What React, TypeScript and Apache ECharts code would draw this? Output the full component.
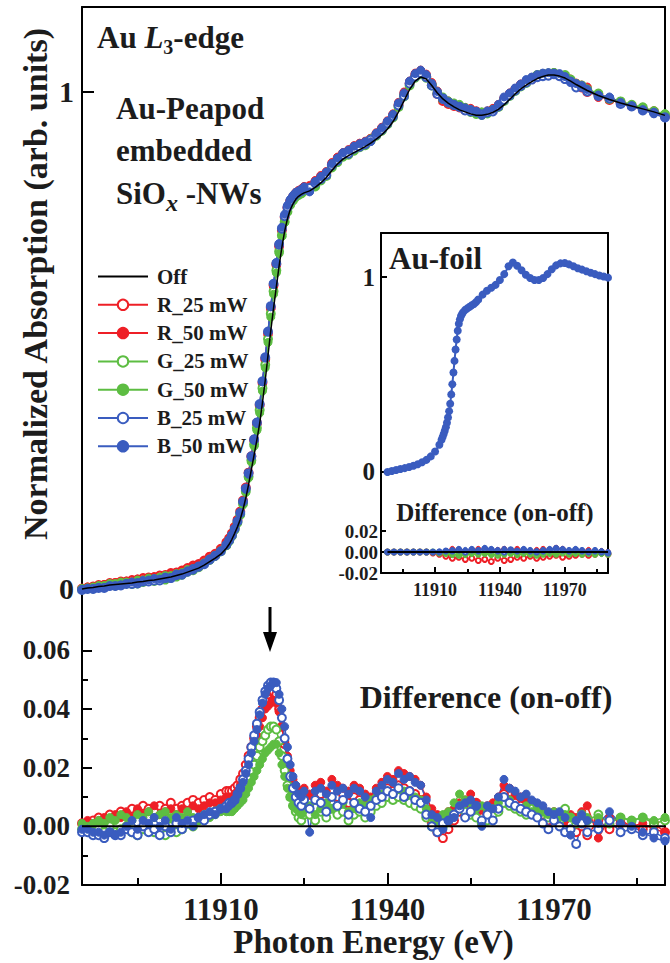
import React, { useEffect, useRef } from "react";
import * as echarts from "echarts";

// ---------- axis ranges & tick values ----------
const X_MIN = 11885;
const X_MAX = 11990;
const X_LABELS = [11910, 11940, 11970];
const X_MINOR = [11895, 11925, 11955, 11985];
const TOP_Y_LABELS = [0, 1];
const DIFF_Y_LABELS = [-0.02, 0, 0.02, 0.04, 0.06];
const DIFF_Y_MINOR = [-0.01, 0.01, 0.03, 0.05];
const INSET_DIFF_LABELS = [-0.02, 0, 0.02];

const LEGEND = ["Off", "R_25 mW", "R_50 mW", "G_25 mW", "G_50 mW", "B_25 mW", "B_50 mW"];

// ---------- Au-Peapod sample: energy grid (eV) ----------
const ENERGY = [
  11885, 11886, 11887, 11888, 11889, 11890, 11891, 11892, 11893, 11894,
  11895, 11896, 11897, 11898, 11899, 11900, 11901, 11902, 11903, 11904,
  11905, 11906, 11907, 11908, 11909, 11910, 11911,
  11911.5, 11912, 11912.5, 11913, 11913.5, 11914, 11914.5, 11915, 11915.5, 11916,
  11916.5, 11917, 11917.5, 11918, 11918.5, 11919, 11919.5, 11920, 11920.5, 11921,
  11921.5, 11922, 11922.5, 11923, 11923.5, 11924, 11924.5, 11925,
  11926, 11927, 11928, 11929, 11930, 11931, 11932, 11933, 11934, 11935,
  11936, 11937, 11938, 11939, 11940, 11941, 11942, 11943, 11944, 11945,
  11946, 11947, 11948, 11949, 11950, 11951, 11952, 11953, 11954, 11955,
  11956, 11957, 11958, 11959, 11960, 11961, 11962, 11963, 11964, 11965,
  11966, 11967, 11968, 11969, 11970, 11971, 11972, 11973, 11974, 11975,
  11976,
  11978, 11980, 11982, 11984, 11986, 11988, 11990,
];

// Off spectrum (normalized absorption)
const OFF = [
  0.000, 0.002, 0.003, 0.005, 0.006, 0.008, 0.009, 0.010, 0.011, 0.012,
  0.014, 0.015, 0.017, 0.018, 0.020, 0.022, 0.024, 0.027, 0.030, 0.034,
  0.038, 0.042, 0.048, 0.055, 0.062, 0.070, 0.082,
  0.090, 0.100, 0.112, 0.125, 0.140, 0.160, 0.183, 0.210, 0.240, 0.270,
  0.300, 0.333, 0.375, 0.420, 0.470, 0.520, 0.565, 0.608, 0.650, 0.688,
  0.720, 0.745, 0.763, 0.775, 0.784, 0.790, 0.794, 0.797,
  0.801, 0.808, 0.817, 0.828, 0.842, 0.855, 0.865, 0.872, 0.878, 0.884,
  0.890, 0.897, 0.905, 0.914, 0.925, 0.940, 0.960, 0.982, 1.005, 1.022,
  1.030, 1.026, 1.013, 0.998, 0.986, 0.977, 0.970, 0.964, 0.960, 0.956,
  0.953, 0.953, 0.955, 0.959, 0.965, 0.974, 0.985, 0.996, 1.006, 1.014,
  1.021, 1.027, 1.031, 1.034, 1.034, 1.032, 1.028, 1.022, 1.015, 1.009,
  1.003,
  0.993, 0.985, 0.978, 0.972, 0.966, 0.960, 0.953,
];

// Differences (on - off)
const D_R25 = [
  0.001, 0.001, 0.002, 0.003, 0.002, 0.004, 0.003, 0.005, 0.004, 0.006,
  0.005, 0.007, 0.006, 0.005, 0.007, 0.006, 0.008, 0.006, 0.007, 0.008,
  0.009, 0.008, 0.009, 0.010, 0.009, 0.011, 0.012,
  0.012, 0.012, 0.013, 0.014, 0.016, 0.018, 0.021, 0.024, 0.027, 0.030,
  0.034, 0.037, 0.040, 0.043, 0.045, 0.046, 0.046, 0.045, 0.040, 0.034,
  0.028, 0.022, 0.017, 0.013, 0.011, 0.009, 0.008, 0.010,
  0.008, 0.010, 0.011, 0.009, 0.012, 0.010, 0.011, 0.008, 0.010, 0.009,
  0.007, 0.008, 0.010, 0.012, 0.013, 0.012, 0.014, 0.013, 0.012, 0.011,
  0.009, 0.005, 0.001, -0.002, -0.004, -0.001, 0.002, 0.005, 0.004, 0.006,
  0.008, 0.003, 0.004, 0.005, 0.007, 0.011, 0.009, 0.008, 0.007, 0.006,
  0.005, 0.006, 0.004, 0.002, 0.003, 0.001, -0.001, 0.001, -0.002, 0.000,
  -0.003,
  0.002, -0.001, 0.001, 0.000, -0.001, 0.001, -0.002,
];
const D_R50 = [
  0.001, 0.002, 0.001, 0.002, 0.003, 0.002, 0.004, 0.003, 0.005, 0.003,
  0.006, 0.004, 0.005, 0.007, 0.004, 0.005, 0.006, 0.004, 0.006, 0.005,
  0.007, 0.006, 0.007, 0.008, 0.008, 0.009, 0.010,
  0.010, 0.010, 0.011, 0.012, 0.014, 0.016, 0.019, 0.022, 0.025, 0.028,
  0.031, 0.034, 0.037, 0.040, 0.041, 0.042, 0.043, 0.042, 0.039, 0.034,
  0.029, 0.024, 0.019, 0.016, 0.014, 0.012, 0.011, 0.013,
  0.011, 0.014, 0.015, 0.012, 0.016, 0.014, 0.013, 0.012, 0.014, 0.013,
  0.011, 0.010, 0.013, 0.015, 0.017, 0.016, 0.019, 0.018, 0.017, 0.016,
  0.014, 0.010, 0.006, 0.004, 0.003, 0.005, 0.006, 0.008, 0.009, 0.011,
  0.008, 0.006, 0.007, 0.008, 0.010, 0.014, 0.013, 0.011, 0.010, 0.009,
  0.008, 0.007, 0.006, 0.004, 0.005, 0.003, 0.002, 0.004, 0.003, 0.005,
  0.007,
  -0.004, 0.003, 0.002, 0.000, 0.001, -0.001, -0.002,
];
const D_G25 = [
  -0.001, -0.001, -0.002, -0.001, -0.002, 0.000, -0.002, -0.001, 0.000, -0.002,
  -0.003, -0.001, 0.000, -0.002, -0.001, -0.003, 0.000, -0.002, -0.001, 0.001,
  0.000, 0.002, 0.003, 0.004, 0.005, 0.006, 0.006,
  0.007, 0.007, 0.008, 0.009, 0.010, 0.012, 0.014, 0.016, 0.019, 0.021,
  0.024, 0.027, 0.029, 0.031, 0.033, 0.034, 0.034, 0.033, 0.029, 0.024,
  0.019, 0.014, 0.010, 0.007, 0.005, 0.003, 0.002, 0.004,
  0.004, 0.002, 0.005, 0.003, 0.006, 0.004, 0.005, 0.002, 0.004, 0.005,
  0.003, 0.005, 0.007, 0.008, 0.010, 0.009, 0.010, 0.009, 0.008, 0.007,
  0.006, 0.003, 0.000, -0.001, 0.000, 0.002, 0.004, 0.007, 0.005, 0.004,
  0.003, 0.001, 0.002, 0.004, 0.005, 0.008, 0.007, 0.006, 0.005, 0.004,
  0.006, 0.007, 0.005, 0.003, 0.004, 0.002, 0.006, 0.003, 0.001, 0.004,
  0.002,
  0.004, 0.001, 0.003, 0.002, 0.003, 0.001, 0.002,
];
const D_G50 = [
  0.001, 0.000, 0.001, 0.002, 0.001, 0.003, 0.002, 0.004, 0.003, 0.002,
  0.004, 0.003, 0.005, 0.003, 0.004, 0.005, 0.003, 0.004, 0.003, 0.005,
  0.003, 0.002, 0.004, 0.003, 0.004, 0.005, 0.005,
  0.005, 0.005, 0.006, 0.007, 0.008, 0.009, 0.011, 0.013, 0.015, 0.017,
  0.019, 0.021, 0.023, 0.025, 0.026, 0.027, 0.028, 0.028, 0.025, 0.021,
  0.017, 0.013, 0.010, 0.007, 0.006, 0.005, 0.004, 0.006,
  0.007, 0.004, 0.006, 0.008, 0.006, 0.007, 0.008, 0.005, 0.006, 0.008,
  0.007, 0.009, 0.010, 0.011, 0.012, 0.011, 0.013, 0.012, 0.011, 0.010,
  0.009, 0.006, 0.003, 0.002, 0.004, 0.005, 0.008, 0.011, 0.009, 0.008,
  0.006, 0.007, 0.005, 0.006, 0.008, 0.010, 0.009, 0.007, 0.006, 0.007,
  0.005, 0.006, 0.005, 0.004, 0.005, 0.003, 0.004, 0.003, 0.002, 0.004,
  0.003,
  0.003, 0.002, 0.003, 0.002, 0.003, 0.002, 0.003,
];
const D_B25 = [
  -0.002, -0.002, -0.003, -0.003, -0.004, -0.002, -0.003, -0.003, -0.001, -0.002,
  -0.003, 0.000, -0.002, -0.001, -0.003, 0.000, -0.002, 0.001, -0.001, 0.001,
  0.002, 0.003, 0.002, 0.004, 0.005, 0.006, 0.007,
  0.008, 0.008, 0.009, 0.011, 0.013, 0.016, 0.019, 0.023, 0.027, 0.031,
  0.035, 0.039, 0.043, 0.046, 0.048, 0.049, 0.049, 0.047, 0.043, 0.037,
  0.030, 0.023, 0.017, 0.013, 0.010, 0.008, 0.007, 0.009,
  0.006, 0.009, 0.008, 0.005, 0.010, 0.007, 0.009, 0.004, 0.008, 0.006,
  0.005, 0.007, 0.009, 0.010, 0.012, 0.011, 0.013, 0.010, 0.012, 0.009,
  0.008, 0.004, 0.000, -0.002, 0.001, 0.002, 0.004, 0.006, 0.003, 0.005,
  0.007, 0.002, 0.004, 0.002, 0.006, 0.010, 0.008, 0.007, 0.006, 0.005,
  0.004, 0.003, 0.001, -0.001, 0.002, 0.000, -0.002, -0.001, -0.006, 0.001,
  -0.002,
  -0.001, 0.002, -0.002, -0.001, -0.003, -0.002, -0.004,
];
const D_B50 = [
  -0.001, -0.001, -0.002, -0.002, -0.003, -0.002, -0.003, -0.002, 0.000, 0.002,
  -0.001, 0.002, 0.001, 0.003, 0.000, 0.002, -0.001, 0.003, 0.001, 0.002,
  0.000, 0.003, 0.004, 0.005, 0.004, 0.006, 0.006,
  0.007, 0.008, 0.009, 0.011, 0.013, 0.015, 0.018, 0.021, 0.025, 0.029,
  0.033, 0.038, 0.042, 0.045, 0.047, 0.048, 0.049, 0.049, 0.045, 0.040,
  0.034, 0.027, 0.021, 0.017, 0.014, 0.011, 0.010, 0.012,
  -0.002, 0.012, 0.013, 0.011, 0.014, 0.012, 0.013, 0.011, 0.013, 0.012,
  0.010, 0.003, 0.012, 0.014, 0.016, 0.015, 0.018, 0.016, 0.017, 0.015,
  0.014, 0.009, 0.004, 0.003, -0.001, 0.002, 0.003, 0.007, 0.008, 0.009,
  0.007, 0.000, 0.007, 0.006, 0.010, 0.016, 0.013, 0.012, 0.010, 0.011,
  0.009, 0.008, 0.007, 0.005, 0.004, 0.005, 0.003, -0.003, 0.002, 0.004,
  0.002,
  0.001, 0.005, 0.001, 0.000, -0.002, -0.004, -0.005,
];

// ---------- Au-foil reference (inset) ----------
const FOIL_E = [
  11888, 11890, 11892, 11894, 11896, 11898, 11900, 11902, 11904, 11906, 11908, 11910, 11912,
  11913, 11913.5, 11914, 11914.5, 11915, 11915.5, 11916, 11916.5, 11917, 11917.5,
  11918, 11918.5, 11919, 11919.5, 11920, 11920.5, 11921, 11921.5, 11922, 11922.5, 11923,
  11924, 11925, 11926, 11927, 11928, 11929, 11930,
  11932, 11934, 11936, 11938, 11940, 11942, 11944, 11946, 11948, 11950,
  11952, 11954, 11956, 11958, 11960, 11962, 11964, 11966, 11968, 11970,
  11972, 11974, 11976, 11978, 11980, 11982, 11984, 11986, 11988, 11990,
];
const FOIL = [
  0.000, 0.005, 0.010, 0.015, 0.020, 0.026, 0.032, 0.040, 0.050, 0.062, 0.080, 0.105, 0.140,
  0.165, 0.180, 0.195, 0.212, 0.230, 0.253, 0.280, 0.312, 0.350, 0.398,
  0.450, 0.510, 0.570, 0.628, 0.680, 0.725, 0.760, 0.783, 0.800, 0.811, 0.820,
  0.832, 0.840, 0.848, 0.855, 0.862, 0.872, 0.885,
  0.910, 0.930, 0.945, 0.960, 0.985, 1.015, 1.055, 1.075, 1.058, 1.035,
  1.012, 0.995, 0.985, 0.985, 0.995, 1.015, 1.040, 1.060, 1.070, 1.072,
  1.065, 1.055, 1.045, 1.038, 1.030, 1.022, 1.015, 1.008, 1.003, 0.997,
];
const FOIL_DIFF_E = [
  11888, 11891, 11894, 11897, 11900, 11903, 11906, 11909, 11912, 11915,
  11918, 11921, 11924, 11927, 11930, 11933, 11936, 11939, 11942, 11945,
  11948, 11951, 11954, 11957, 11960, 11963, 11966, 11969, 11972, 11975,
  11978, 11981, 11984, 11987, 11990,
];
const FD_R25 = [
  0, 0, 0, 0, 0, 0, 0, -0.001, -0.002, -0.004,
  -0.006, -0.005, -0.007, -0.006, -0.008, -0.007, -0.009, -0.006, -0.008, -0.007,
  -0.005, -0.006, -0.004, -0.006, -0.005, -0.004, -0.003, -0.005, -0.004, -0.003,
  -0.002, -0.003, -0.002, -0.001, -0.002,
];
const FD_R50 = [
  0, 0, 0, 0, 0, 0, 0, 0, 0, 0.001,
  0.003, 0.002, 0.001, 0.002, 0.003, 0.002, 0.001, 0.002, 0.003, 0.002,
  0.003, 0.002, 0.001, 0.002, 0.003, 0.002, 0.004, 0.003, 0.001, 0.002,
  0.001, 0.002, 0.000, 0.001, 0.000,
];
const FD_G25 = [
  0, 0, 0, 0, 0, 0, 0, 0, -0.001, -0.001,
  -0.002, -0.003, -0.002, -0.001, -0.002, -0.001, -0.002, -0.003, -0.002, -0.001,
  -0.002, -0.001, -0.002, -0.003, -0.002, -0.001, -0.002, -0.001, -0.002, -0.001,
  -0.002, -0.001, -0.002, -0.001, -0.002,
];
const FD_G50 = [
  0, 0, 0, 0, 0, 0, 0, 0, -0.001, -0.002,
  -0.003, -0.002, -0.003, -0.002, -0.001, -0.002, -0.003, -0.002, -0.001, -0.002,
  -0.003, -0.002, -0.001, -0.002, -0.001, -0.002, -0.001, 0.000, -0.001, -0.002,
  -0.001, -0.002, -0.001, -0.002, -0.001,
];
const FD_B25 = [
  0, 0, 0, 0, 0, 0, 0, 0, 0, 0.001,
  0.001, 0.002, 0.000, 0.002, 0.001, 0.003, 0.002, 0.001, 0.000, 0.002,
  0.001, 0.002, 0.001, 0.000, 0.001, 0.002, 0.003, 0.002, 0.001, 0.002,
  0.001, 0.000, 0.001, 0.000, -0.001,
];
const FD_B50 = [
  0, 0, 0, 0, 0, 0, 0, 0, 0.0005, 0.001,
  0.002, 0.003, 0.002, 0.003, 0.002, 0.004, 0.003, 0.002, 0.003, 0.002,
  0.001, 0.003, 0.002, 0.001, 0.002, 0.003, 0.004, 0.003, 0.002, 0.003,
  0.002, 0.001, 0.002, 0.001, 0.000,
];

// ---------- styles ----------
const RED = "#ee1f26";
const GREEN = "#5dbd42";
const BLUE = "#3a5cbf";
const INK = "#1c1c1c";
const FONT = '"Liberation Serif", "Times New Roman", serif';

const RUNS = [
  { name: "R_25 mW", color: RED, open: true, diff: D_R25, foil: FD_R25 },
  { name: "R_50 mW", color: RED, open: false, diff: D_R50, foil: FD_R50 },
  { name: "G_25 mW", color: GREEN, open: true, diff: D_G25, foil: FD_G25 },
  { name: "G_50 mW", color: GREEN, open: false, diff: D_G50, foil: FD_G50 },
  { name: "B_25 mW", color: BLUE, open: true, diff: D_B25, foil: FD_B25 },
  { name: "B_50 mW", color: BLUE, open: false, diff: D_B50, foil: FD_B50 },
];

const AXIS_LINE = { show: true, onZero: false, lineStyle: { color: "#000", width: 2 } };
const NO_LINE = { show: false, onZero: false };

function xAxis(gridIndex: number, extra: any) {
  return {
    type: "value",
    gridIndex,
    min: X_MIN,
    max: X_MAX,
    splitLine: { show: false },
    axisLine: NO_LINE,
    axisTick: { show: false },
    axisLabel: { show: false },
    ...extra,
  };
}
function yAxis(gridIndex: number, min: number, max: number, extra: any) {
  return {
    type: "value",
    gridIndex,
    min,
    max,
    position: "left",
    splitLine: { show: false },
    axisLine: NO_LINE,
    axisTick: { show: false },
    axisLabel: { show: false },
    ...extra,
  };
}
const lbl = (size: number, margin: number, values: number[], fmt: (v: number) => string) => ({
  show: true,
  customValues: values,
  fontFamily: FONT,
  fontWeight: "bold",
  fontSize: size,
  color: INK,
  margin,
  formatter: fmt,
});
const tick = (len: number, values: number[]) => ({
  show: true,
  inside: true,
  length: len,
  customValues: values,
  lineStyle: { color: "#000", width: 2 },
});

export default function App() {
  const ref = useRef<HTMLDivElement>(null);

  useEffect(() => {
    document.body.style.margin = "0";
    if (!ref.current) return;
    const chart = echarts.init(ref.current, undefined, { renderer: "svg" });

    const series: any[] = [];
    RUNS.forEach((r) => {
      const common = {
        type: "line",
        name: r.name,
        symbol: r.open ? "emptyCircle" : "circle",
        lineStyle: { color: r.color, width: 1.5 },
        itemStyle: { color: r.color, borderColor: r.color, borderWidth: 1 },
        silent: true,
        z: 2,
      };
      series.push({
        ...common,
        xAxisIndex: 0,
        yAxisIndex: 0,
        symbolSize: 8,
        data: ENERGY.map((e, i) => [e, OFF[i] + r.diff[i]]),
      });
      series.push({
        ...common,
        xAxisIndex: 1,
        yAxisIndex: 2,
        symbolSize: 8,
        data: ENERGY.map((e, i) => [e, r.diff[i]]),
      });
      series.push({
        ...common,
        xAxisIndex: 4,
        yAxisIndex: 7,
        symbolSize: 5,
        lineStyle: { color: r.color, width: 1 },
        data: FOIL_DIFF_E.map((e, i) => [e, r.foil[i]]),
      });
    });
    // Au foil spectrum
    series.push({
      type: "line",
      name: "B_50 mW",
      xAxisIndex: 3,
      yAxisIndex: 5,
      symbol: "circle",
      symbolSize: 8,
      lineStyle: { color: BLUE, width: 2 },
      itemStyle: { color: BLUE },
      silent: true,
      data: FOIL_E.map((e, i) => [e, FOIL[i]]),
    });
    // Off
    const offCommon = {
      type: "line",
      name: "Off",
      symbol: "none",
      lineStyle: { color: "#000", width: 1.5 },
      itemStyle: { color: "#000" },
      silent: true,
      z: 5,
    };
    series.push({ ...offCommon, xAxisIndex: 0, yAxisIndex: 0, data: ENERGY.map((e, i) => [e, OFF[i]]) });
    series.push({
      ...offCommon,
      xAxisIndex: 1,
      yAxisIndex: 2,
      lineStyle: { color: "#000", width: 2 },
      data: ENERGY.map((e, i) => [e, OFF[i] - OFF[i]]),
    });
    series.push({
      ...offCommon,
      xAxisIndex: 4,
      yAxisIndex: 7,
      lineStyle: { color: "#000", width: 2 },
      data: FOIL_DIFF_E.map((e) => [e, 0]),
    });

    const fmt2 = (v: number) => v.toFixed(2);
    const fmt0 = (v: number) => String(v);

    const option: any = {
      animation: false,
      backgroundColor: "#fff",
      grid: [
        { left: 82, top: 7, width: 583, height: 614, outerBoundsMode: "none" },
        { left: 82, top: 621, width: 583, height: 264, outerBoundsMode: "none" },
        { left: 381, top: 233, width: 227, height: 277, show: true, backgroundColor: "#fff", borderWidth: 0, outerBoundsMode: "none" },
        { left: 381, top: 510, width: 227, height: 63, show: true, backgroundColor: "#fff", borderWidth: 0, outerBoundsMode: "none" },
      ],
      xAxis: [
        xAxis(0, { position: "top", axisLine: AXIS_LINE }),
        xAxis(1, {
          position: "bottom",
          axisLine: AXIS_LINE,
          axisTick: tick(12, X_LABELS),
          axisLabel: lbl(31, 9, X_LABELS, fmt0),
          name: "Photon Energy (eV)",
          nameLocation: "middle",
          nameGap: 39,
          nameTextStyle: { fontFamily: FONT, fontWeight: "bold", fontSize: 33, color: INK },
        }),
        xAxis(1, { position: "bottom", axisTick: tick(7, X_MINOR) }),
        xAxis(2, { position: "top", axisLine: AXIS_LINE }),
        xAxis(3, {
          position: "bottom",
          axisLine: AXIS_LINE,
          axisTick: tick(6, X_LABELS),
          axisLabel: lbl(18, 8, X_LABELS, fmt0),
        }),
        xAxis(3, { position: "bottom", axisTick: tick(4, X_MINOR) }),
      ],
      yAxis: [
        yAxis(0, -0.0644, 1.171, {
          axisLine: AXIS_LINE,
          axisTick: tick(12, TOP_Y_LABELS),
          axisLabel: lbl(30, 8, TOP_Y_LABELS, fmt0),
        }),
        yAxis(0, -0.0644, 1.171, { position: "right", axisLine: AXIS_LINE }),
        yAxis(1, -0.02, 0.07, {
          axisLine: AXIS_LINE,
          axisTick: tick(10, DIFF_Y_LABELS),
          axisLabel: lbl(27, 12, DIFF_Y_LABELS, fmt2),
        }),
        yAxis(1, -0.02, 0.07, { axisTick: tick(6, DIFF_Y_MINOR) }),
        yAxis(1, -0.02, 0.07, { position: "right", axisLine: AXIS_LINE }),
        yAxis(2, -0.195, 1.226, {
          axisLine: AXIS_LINE,
          axisTick: tick(6, TOP_Y_LABELS),
          axisLabel: lbl(25, 6, TOP_Y_LABELS, fmt0),
        }),
        yAxis(2, -0.195, 1.226, { position: "right", axisLine: AXIS_LINE }),
        yAxis(3, -0.02, 0.04, {
          axisLine: AXIS_LINE,
          axisTick: tick(5, INSET_DIFF_LABELS),
          axisLabel: lbl(19, 3, INSET_DIFF_LABELS, fmt2),
        }),
        yAxis(3, -0.02, 0.04, { position: "right", axisLine: AXIS_LINE }),
      ],
      legend: {
        data: LEGEND.map((n) => (n === "Off" ? { name: n, itemStyle: { opacity: 0 } } : n)),
        orient: "vertical",
        left: 92,
        top: 261,
        align: "left",
        itemWidth: 50,
        itemHeight: 13,
        itemGap: 7.3,
        selectedMode: false,
        textStyle: {
          fontFamily: FONT,
          fontWeight: "bold",
          fontSize: 21,
          color: INK,
          lineHeight: 21,
          padding: [0, 0, 0, 4],
        },
      },
      graphic: [
        {
          type: "text",
          x: 35,
          y: 284,
          rotation: Math.PI / 2,
          style: {
            text: "Normalized Absorption (arb. units)",
            fontFamily: FONT,
            fontWeight: "bold",
            fontSize: 34,
            fill: INK,
            align: "center",
            verticalAlign: "middle",
          },
        },
        {
          type: "text",
          x: 97,
          y: 37,
          style: {
            text: "{b|Au }{i|L}{s|3}{b|-edge}",
            verticalAlign: "middle",
            align: "left",
            rich: {
              b: { fontFamily: FONT, fontWeight: "bold", fontSize: 31, fill: INK, lineHeight: 40 },
              i: { fontFamily: FONT, fontWeight: "bold", fontStyle: "italic", fontSize: 31, fill: INK, lineHeight: 40 },
              s: { fontFamily: FONT, fontWeight: "bold", fontSize: 20, fill: INK, lineHeight: 20, verticalAlign: "bottom" },
            },
          },
        },
        {
          type: "text",
          x: 116,
          y: 87,
          style: {
            text: "{b|Au-Peapod}\n{b|embedded}\n{b|SiO}{x|x}{b| -NWs}",
            verticalAlign: "top",
            align: "left",
            rich: {
              b: { fontFamily: FONT, fontWeight: "bold", fontSize: 31, fill: INK, lineHeight: 42.5 },
              x: { fontFamily: FONT, fontWeight: "bold", fontStyle: "italic", fontSize: 24, fill: INK, lineHeight: 32, verticalAlign: "bottom" },
            },
          },
        },
        {
          type: "text",
          x: 486,
          y: 697,
          style: {
            text: "Difference (on-off)",
            fontFamily: FONT,
            fontWeight: "bold",
            fontSize: 32,
            fill: INK,
            align: "center",
            verticalAlign: "middle",
          },
        },
        {
          type: "text",
          x: 389,
          y: 258,
          z: 10,
          style: {
            text: "Au-foil",
            fontFamily: FONT,
            fontWeight: "bold",
            fontSize: 31,
            fill: INK,
            align: "left",
            verticalAlign: "middle",
          },
        },
        {
          type: "text",
          x: 495,
          y: 512,
          z: 10,
          style: {
            text: "Difference (on-off)",
            fontFamily: FONT,
            fontWeight: "bold",
            fontSize: 25,
            fill: INK,
            align: "center",
            verticalAlign: "middle",
          },
        },
        {
          type: "line",
          shape: { x1: 270, y1: 607, x2: 270, y2: 636 },
          style: { stroke: "#000", lineWidth: 3 },
        },
        {
          type: "polygon",
          shape: { points: [[263, 632], [277, 632], [270, 652]] },
          style: { fill: "#000" },
        },
      ],
      series,
    };

    chart.setOption(option);
    return () => chart.dispose();
  }, []);

  return <div ref={ref} style={{ width: 670, height: 963 }} />;
}
